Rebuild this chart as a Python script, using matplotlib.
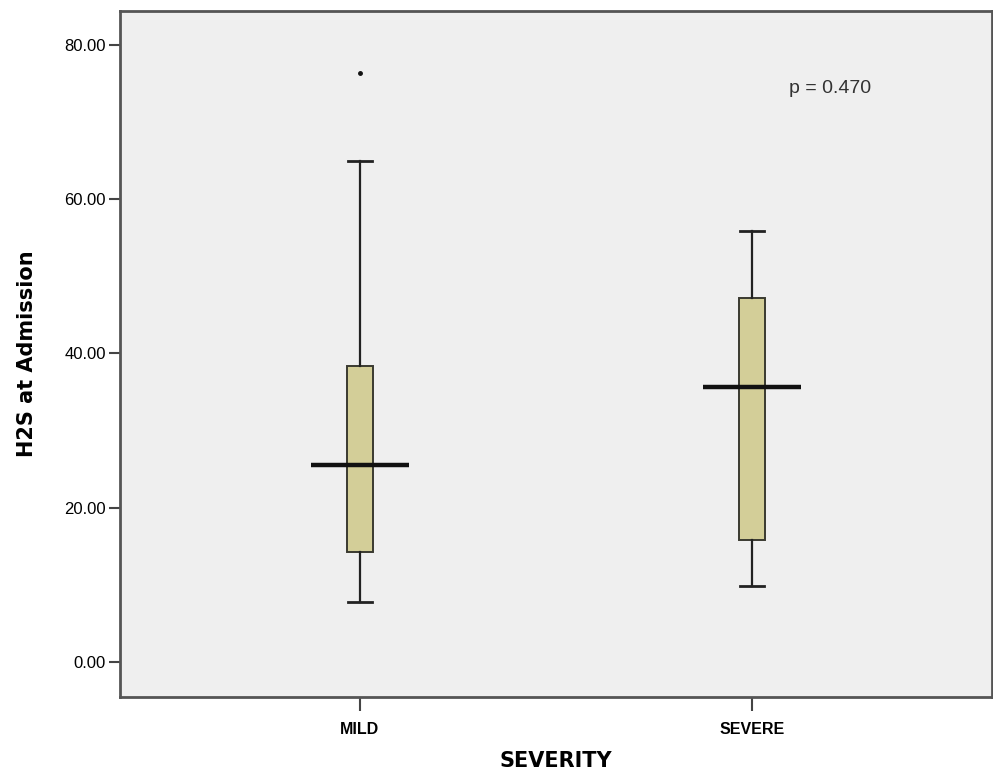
import matplotlib.pyplot as plt

# données
groupes = ["MILD", "SEVERE"]
positions = [1, 2]
whisk_bas = [7.8, 9.9]
q1 = [14.3, 15.8]
mediane = [25.5, 35.7]
q3 = [38.4, 47.2]
whisk_haut = [65.0, 55.9]
outliers = [[76.4], []]
y_ticks = [0, 20, 40, 60, 80]
p_texte = "p = 0.470"

police = ['Liberation Sans', 'DejaVu Sans']
plt.rcParams['font.family'] = police

fig = plt.figure(figsize=(9.93, 7.74), dpi=100)
ax = fig.add_axes([0.1208, 0.0995, 0.8782, 0.8863])
ax.set_facecolor("#efefef")

stats = []
for i in range(len(groupes)):
    stats.append({
        "whislo": whisk_bas[i], "q1": q1[i], "med": mediane[i],
        "q3": q3[i], "whishi": whisk_haut[i], "fliers": outliers[i],
    })

ax.bxp(stats, positions=positions, widths=0.066, patch_artist=True,
       boxprops=dict(facecolor="#d3ce98", edgecolor="#3a3a30", linewidth=1.4),
       whiskerprops=dict(color="#222222", linewidth=1.6),
       capprops=dict(color="#222222", linewidth=2.0),
       capwidths=0.062,
       medianprops=dict(linewidth=0),
       flierprops=dict(marker="o", markersize=2.5, markerfacecolor="#111111",
                       markeredgecolor="#111111"))

# médiane plus large que la boîte
for x, m in zip(positions, mediane):
    ax.hlines(m, x - 0.125, x + 0.125, color="#111111", linewidth=3.2, zorder=4)

ax.set_xlim(0.388, 2.612)
ax.set_ylim(-4.54, 84.4)
ax.set_xticks(positions)
ax.set_xticklabels(groupes, fontsize=11.5, fontweight="bold")
ax.set_yticks(y_ticks)
ax.set_yticklabels([f"{v:.2f}" for v in y_ticks], fontsize=12)
ax.tick_params(axis="y", length=8, width=1.5, color="#444444", pad=2)
ax.tick_params(axis="x", length=10, width=1.5, color="#444444", pad=8)

for s in ax.spines.values():
    s.set_color("#555555")
    s.set_linewidth(2)

ax.set_ylabel("H2S at Admission", fontsize=15, fontweight="bold",
              family=['DejaVu Sans'], labelpad=20)
ax.set_xlabel("SEVERITY", fontsize=15, fontweight="bold",
              family=['DejaVu Sans'], labelpad=10)

ax.text(2.2, 74.4, p_texte, fontsize=14, color="#333333",
        ha="center", va="center")

fig.savefig("out.png", dpi=100)
